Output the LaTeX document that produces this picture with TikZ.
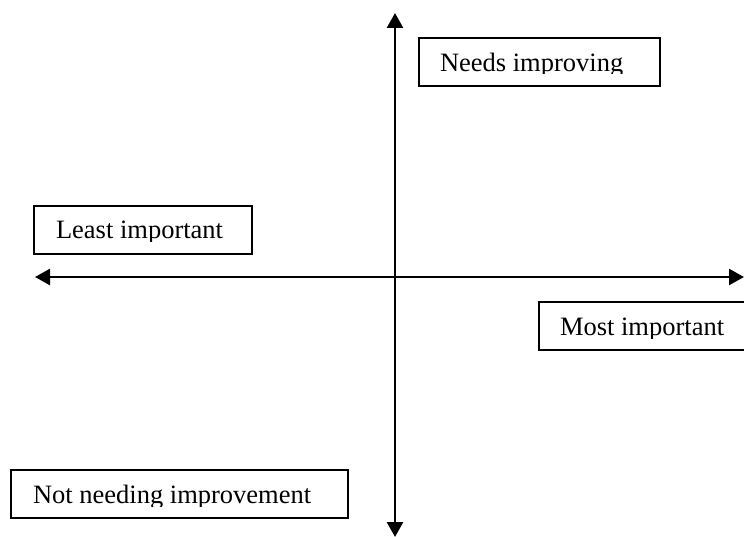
\documentclass[tikz,border=0pt]{standalone}
\usepackage{fontspec}
\setmainfont{Liberation Serif}
\usetikzlibrary{arrows.meta,positioning}
\tikzset{every picture/.style={line width=2pt}}
\tikzset{quadbox/.style={draw,line width=2pt,inner sep=0pt,anchor=north west,minimum height=48pt},
	quadlbl/.style={anchor=base west,inner sep=0pt,font=\fontsize{26.5}{30}\selectfont}}

\begin{document}
\begin{tikzpicture}[x=1pt,y=-1pt]
				\useasboundingbox (0,0) rectangle (744,537);
				\coordinate (top) at (395,13);
				\coordinate (bottom) at (395,537);
				\coordinate (left) at (35,277);
				\coordinate (right) at (744,277);
				\draw[<->,>={Triangle[length=15pt,width=16pt]},line width=2.6pt] (left)--(right); %横軸
				\draw[<->,>={Triangle[length=15pt,width=16pt]},line width=2.6pt] (bottom)--(top); %縦軸
				\node[quadbox,minimum width=241pt] (needsbox) at (418,37) {};
				\node[quadbox,minimum width=218pt] (leastbox) at (33,205) {};
				\node[quadbox,minimum width=207pt] (mostbox) at (538,301) {};
				\node[quadbox,minimum width=337pt] (notbox) at (10,469) {};
				\begin{scope} \clip (418,37) rectangle (659,74);
					\node[quadlbl] (needs) at (439,72) {Needs improving};
				\end{scope}
				\begin{scope} \clip (33,205) rectangle (251,242);
					\node[quadlbl] (least) at (55,239) {Least important};
				\end{scope}
				\begin{scope} \clip (538,301) rectangle (745,338);
					\node[quadlbl] (most) at (559,335) {Most important};
				\end{scope}
				\begin{scope} \clip (10,469) rectangle (347,506);
					\node[quadlbl] (notneed) at (32,503) {Not needing improvement};
				\end{scope}
			\end{tikzpicture}
\end{document}
